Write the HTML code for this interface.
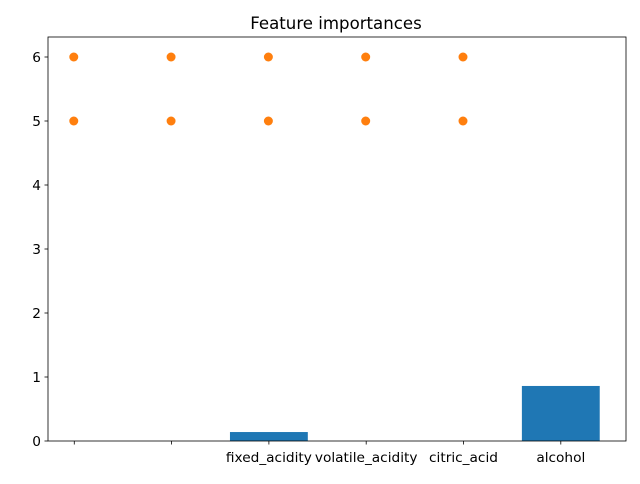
<!DOCTYPE html>
<html><head><meta charset="utf-8"><style>
body{margin:0;background:#fff;font-family:"DejaVu Sans","Liberation Sans",sans-serif;}
svg text{font-family:"DejaVu Sans","Liberation Sans",sans-serif;font-size:13.7px;fill:#000;}
</style></head><body>
<svg id="chart" width="640" height="480" xmlns="http://www.w3.org/2000/svg">
<rect width="640" height="480" fill="#fff"/>
<text x="336" y="29" text-anchor="middle" style="font-size:16.6px">Feature importances</text>
<g id="plot"></g>
<rect x="48" y="37" width="578" height="404" fill="none" stroke="#000" stroke-width="0.8"/>
</svg>
<script>
const categories = ["", "", "fixed_acidity", "volatile_acidity", "citric_acid", "alcohol"];
const barIndex = [2, 3, 4, 5];
const barValues = [0.14, 0, 0, 0.86];
const scatterX = [0, 0, 1, 1, 2, 2, 3, 3, 4, 4];
const scatterY = [6, 5, 6, 5, 6, 5, 6, 5, 6, 5];
const yTicks = [0, 1, 2, 3, 4, 5, 6];

const L=48,R=626,T=37,B=441;
const xmin=-0.27,xmax=5.67,ymin=0,ymax=6.3125;
const xs=v=>L+(v-xmin)/(xmax-xmin)*(R-L);
const ys=v=>B-(v-ymin)/(ymax-ymin)*(B-T);
const NS="http://www.w3.org/2000/svg";
const g=document.getElementById('plot');
function mk(t,a){const e=document.createElementNS(NS,t);for(const k in a)e.setAttribute(k,a[k]);g.appendChild(e);return e;}

barValues.forEach((v,i)=>{
  const c=barIndex[i];
  const e=mk('rect',{x:xs(c-0.4),y:ys(v),width:xs(c+0.4)-xs(c-0.4),height:ys(0)-ys(v),fill:'#1f77b4'});
  
  
});
scatterX.forEach((x,i)=>{
  const e=mk('circle',{cx:xs(x)-0.5,cy:ys(scatterY[i]),r:4.5,fill:'#ff7f0e'});
  
  
});
yTicks.forEach(t=>{
  const y=ys(t);
  const l=mk('line',{x1:L-3.5,x2:L,y1:y,y2:y,stroke:'#000','stroke-width':0.8});
  
  
  const tx=mk('text',{x:L-7,y:y+5,'text-anchor':'end'});tx.textContent=t;
  
  
});
categories.forEach((c,i)=>{
  const x=xs(i);
  const l=mk('line',{x1:x,x2:x,y1:B,y2:B+3.5,stroke:'#000','stroke-width':0.8});
  
  
  if(c){const tx=mk('text',{x:x,y:B+21,'text-anchor':'middle'});tx.textContent=c;
  
  }
});
</script>
</body></html>
